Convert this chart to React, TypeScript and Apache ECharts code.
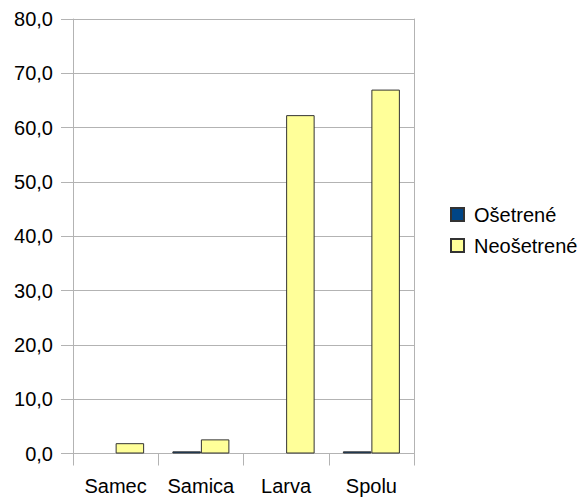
import React, { useEffect, useRef } from "react";
import * as echarts from "echarts";

const categories = ["Samec", "Samica", "Larva", "Spolu"];
const osetrene = [0, 0.4, 0, 0.4];
const neosetrene = [1.9, 2.6, 62.3, 67.0];
const seriesNames = ["Ošetrené", "Neošetrené"];

export default function App() {
  const ref = useRef<HTMLDivElement>(null);
  useEffect(() => {
    const chart = echarts.init(ref.current!, null, { renderer: "svg" });
    const font = "'Liberation Sans', Arial, sans-serif";
    const grey = "#b3b3b3";
    const hideZero = (arr: number[]) => arr.map((v) => (v === 0 ? null : v));
    chart.setOption({
      animation: false,
      backgroundColor: "#ffffff",
      grid: { left: 73, right: 170, top: 19, bottom: 43.5, containLabel: false },
      legend: {
        orient: "vertical",
        left: 445,
        top: 199.5,
        itemWidth: 13,
        itemHeight: 13,
        itemGap: 11,
        icon: "rect",
        textStyle: { fontFamily: font, fontSize: 20, color: "#000", padding: [0, 0, 0, 5] },
        data: seriesNames,
      },
      xAxis: {
        type: "category",
        data: categories,
        axisLine: { show: true, lineStyle: { color: grey, width: 1 } },
        axisTick: { show: true, length: 12, lineStyle: { color: grey } },
        axisLabel: {
          fontFamily: font,
          fontSize: 20,
          color: "#000",
          margin: 22,
          interval: 0,
          hideOverlap: false,
        },
      },
      yAxis: [
        {
          type: "value",
          min: 0,
          max: 80,
          interval: 10,
          axisLine: { show: true, lineStyle: { color: grey } },
          axisTick: { show: true, length: 12, lineStyle: { color: grey } },
          splitLine: { show: true, lineStyle: { color: grey } },
          axisLabel: {
            fontFamily: font,
            fontSize: 20,
            color: "#000",
            margin: 20,
            formatter: (v: number) => v.toFixed(1).replace(".", ","),
          },
        },
        {
          type: "value",
          position: "right",
          min: 0,
          max: 80,
          interval: 10,
          axisLine: { show: true, lineStyle: { color: grey } },
          axisTick: { show: false },
          axisLabel: { show: false },
          splitLine: { show: false },
        },
      ],
      series: [
        {
          name: seriesNames[0],
          type: "bar",
          data: hideZero(osetrene),
          barWidth: 28.5,
          barGap: "0%",
          itemStyle: { color: "#004586", borderColor: "#333333", borderWidth: 1 },
        },
        {
          name: seriesNames[1],
          type: "bar",
          data: hideZero(neosetrene),
          barWidth: 28.5,
          barGap: "0%",
          itemStyle: { color: "#ffff99", borderColor: "#333333", borderWidth: 1 },
        },
      ],
    });
    return () => chart.dispose();
  }, []);
  return (
    <div
      ref={ref}
      style={{ position: "fixed", left: 0, top: 0, width: 584, height: 497 }}
    />
  );
}
